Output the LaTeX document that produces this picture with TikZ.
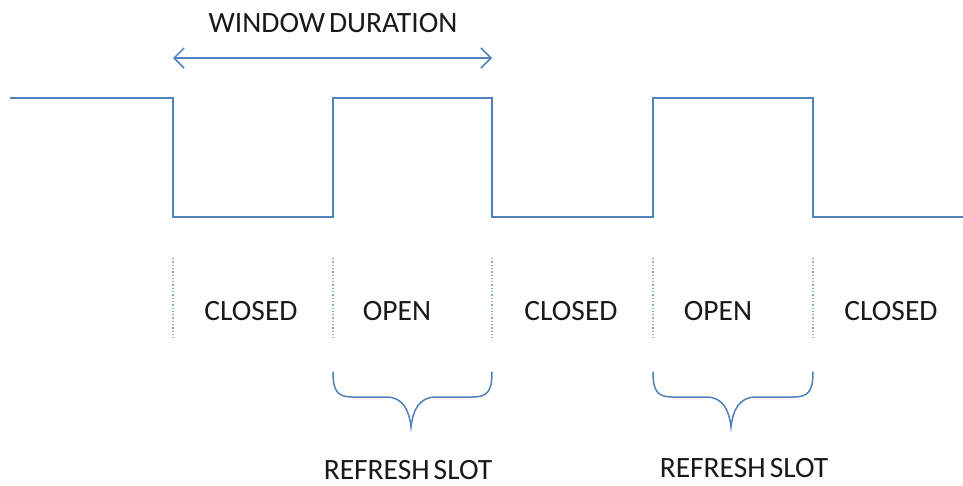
\documentclass[tikz,border=0pt]{standalone}
\usepackage{fontspec}
\setmainfont{Carlito}[WordSpace={0.6}]
\usetikzlibrary{arrows.meta}
\definecolor{wave}{HTML}{4F81BD}
\definecolor{dots}{HTML}{8EAADB}
\begin{document}
\begin{tikzpicture}[x=1pt,y=-1pt,
  wavestyle/.style={draw=wave,line width=1.8pt},
  sepline/.style={draw=dots,line width=1.3pt,dotted},
  lbl/.style={inner sep=0pt,font=\fontsize{29.5}{32}\selectfont,text=black!90},
  bracestyle/.style={draw=wave,line width=1.5pt,line cap=round}]
\useasboundingbox (0,0) rectangle (963,485);
% waveform
\coordinate (w0) at (10,98);
\coordinate (w1) at (173,98);
\coordinate (w2) at (173,217);
\coordinate (w3) at (333,217);
\coordinate (w4) at (333,98);
\coordinate (w5) at (492,98);
\coordinate (w6) at (492,217);
\coordinate (w7) at (653,217);
\coordinate (w8) at (653,98);
\coordinate (w9) at (813,98);
\coordinate (w10) at (813,217);
\coordinate (w11) at (963,217);
\draw[wavestyle] (w0)--(w1)--(w2)--(w3)--(w4)--(w5)--(w6)--(w7)--(w8)--(w9)--(w10)--(w11);
% window duration
\coordinate (a0) at (173,58);
\coordinate (a1) at (492,58);
\draw[draw=wave,line width=1.5pt,{Straight Barb[length=10pt,width=20pt]}-{Straight Barb[length=10pt,width=20pt]}] (a0)--(a1);
\node[lbl] (wd) at (333,23) {WINDOW DURATION};
% separators
\foreach \x/\n in {173/1,333/2,492/3,653/4,813/5}{
  \coordinate (s\n a) at (\x,258);
  \coordinate (s\n b) at (\x,338);
  \draw[sepline] (s\n a)--(s\n b);
}
% state labels
\node[lbl] (c1) at (251,311) {CLOSED};
\node[lbl] (o1) at (397,311) {OPEN};
\node[lbl] (c2) at (571,311) {CLOSED};
\node[lbl] (o2) at (718,311) {OPEN};
\node[lbl] (c3) at (891,311) {CLOSED};
% braces
\foreach \l/\m/\r/\n in {333/411/492/1,653/731/813/2}{
  \coordinate (b\n l) at (\l,372);
  \coordinate (b\n t) at (\m,427);
  \coordinate (b\n r) at (\r,372);
  \draw[bracestyle] (b\n l) .. controls (\l,392) and (\l+5,397) .. (\l+20,397)
    -- (\m-25,397) .. controls (\m-8,397) and (\m-2,410) .. (b\n t)
    .. controls (\m+2,410) and (\m+8,397) .. (\m+25,397)
    -- (\r-20,397) .. controls (\r-5,397) and (\r,392) .. (b\n r);
}
\node[lbl] (r1) at (408,470) {REFRESH SLOT};
\node[lbl] (r2) at (744,468) {REFRESH SLOT};
\end{tikzpicture}
\end{document}
